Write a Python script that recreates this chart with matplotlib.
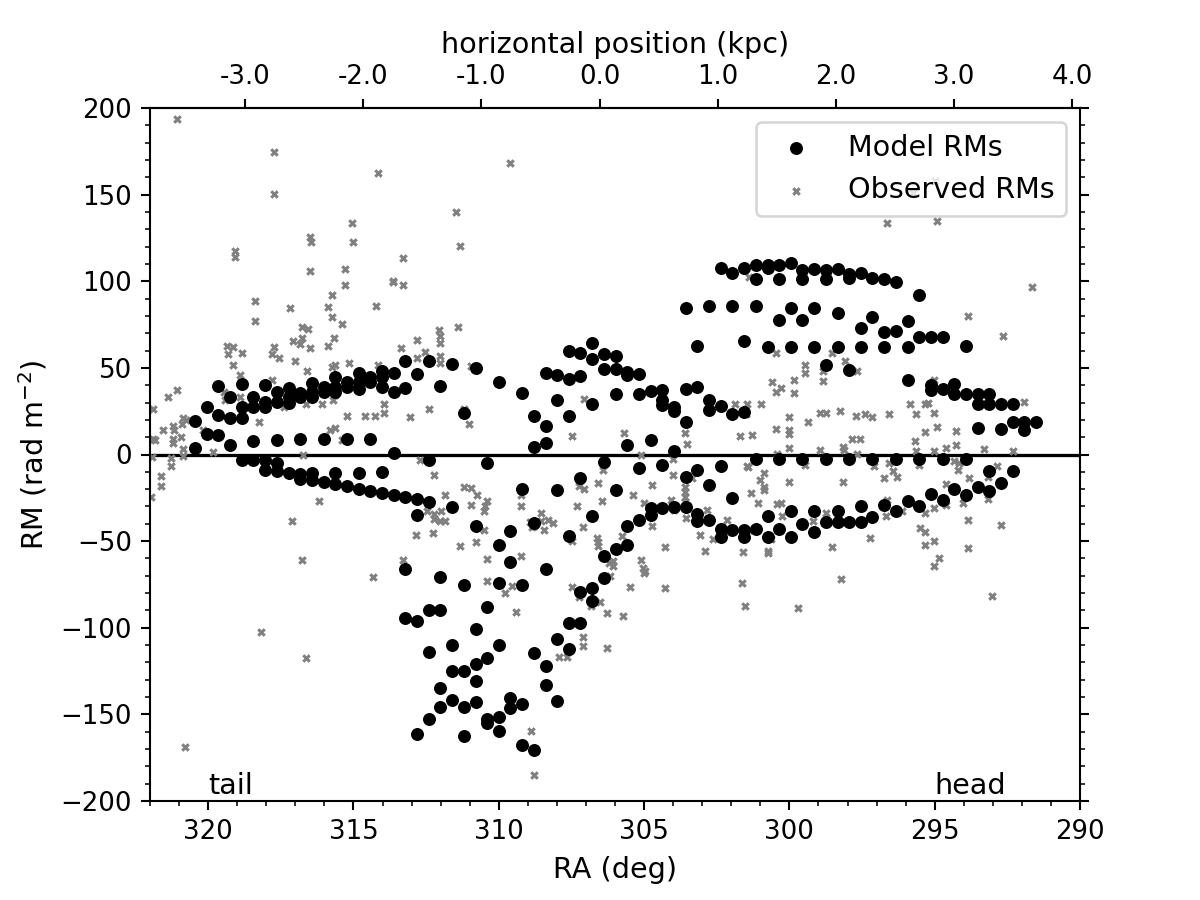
import matplotlib
matplotlib.use("Agg")
import matplotlib.pyplot as plt
from matplotlib.ticker import MultipleLocator, FormatStrFormatter

# ---------------- data ----------------
model_ra_grid = [320.45, 320.05, 319.65, 319.24, 318.84, 318.44, 318.04, 317.63, 317.23, 316.83,
                 316.43, 316.03, 315.63, 315.22, 314.82, 314.42, 314.02, 313.62, 313.21, 312.81,
                 312.41, 312.01, 311.61, 311.21, 310.80, 310.40, 310.00, 309.60, 309.19, 308.79,
                 308.39, 307.99, 307.59, 307.19, 306.78, 306.38, 305.98, 305.58, 305.18, 304.77,
                 304.37, 303.97, 303.57, 303.17, 302.77, 302.36, 301.96, 301.56, 301.16, 300.75,
                 300.36, 299.95, 299.55, 299.15, 298.75, 298.34, 297.94, 297.54, 297.14, 296.74,
                 296.33, 295.93, 295.53, 295.13, 294.73, 294.33, 293.92, 293.52, 293.12, 292.72,
                 292.32, 291.92, 291.51]

model_rm_by_ra = [
    [19.1, 3.5], [27.4, 11.7], [39.5, 22.9, 11.0], [33.0, 21.0, 5.4],
    [40.9, 27.2, 21.0, -3.1], [33.0, 27.2, 7.7, -3.1], [39.9, 30.3, 27.2, -3.1, -8.7],
    [36.0, 30.3, 8.3, -4.8, -9.6], [38.3, 33.1, 29.9, -10.6], [35.6, 33.1, 8.7, -11.2, -14.0],
    [41.4, 36.0, 33.1, -10.6, -15.0], [38.9, 36.0, 8.7, -16.0], [44.7, 38.9, 36.0, -10.6, -17.3],
    [41.8, 38.9, 9.0, -18.3], [47.2, 41.8, 38.0, -10.6, -19.8], [44.7, 41.8, 9.0, -21.2],
    [48.0, 44.7, 38.9, -10.2, -22.4], [47.2, 36.0, 1.0, -23.1],
    [53.9, 38.3, -24.7, -66.0, -94.6], [46.6, -25.6, -34.9, -96.0, -161.5],
    [53.9, -3.1, -27.6, -89.8, -114.1, -152.8], [39.3, -70.9, -89.8, -134.5, -145.7],
    [52.4, -30.5, -110.0, -125.2, -141.6], [23.9, -75.1, -125.2, -146.0, -162.4],
    [50.1, -41.0, -100.8, -121.0, -130.6, -142.6], [-5.0, -87.9, -117.2, -152.8, -154.7],
    [41.8, -52.0, -74.2, -110.0, -151.3, -159.5], [-44.3, -61.8, -140.3, -146.6],
    [35.4, -20.2, -75.3, -144.1, -167.6], [22.5, 4.6, -39.7, -114.3, -170.5],
    [47.2, 16.4, 6.8, -66.1, -122.0, -133.1], [46.1, 31.6, -20.4, -106.6, -142.2],
    [59.7, 43.8, 22.5, -46.8, -97.3, -112.0], [58.6, 45.1, -13.7, -79.6, -97.3],
    [64.3, 55.3, 29.3, -35.3, -77.1, -84.4], [58.2, 49.5, -4.4, -58.4, -71.3],
    [56.8, 49.1, 34.7, -20.4, -54.5], [47.6, 45.7, 5.6, -41.4, -52.0],
    [46.6, 35.1, -7.9, -37.8], [36.6, 8.5, -30.8, -34.7], [37.0, 31.2, 28.3, -6.0, -30.8],
    [27.7, 25.0, 1.9, -30.1], [84.8, 37.6, 18.7, -13.1, -30.1], [62.6, 38.9, -8.7, -34.3, -38.2],
    [85.7, 31.2, 25.8, -17.5, -37.8], [107.9, 27.9, -6.8, -43.0, -47.4],
    [104.6, 85.7, 23.1, -25.0, -43.5], [107.9, 65.5, 24.5, -43.5, -47.8],
    [109.4, 101.3, 85.7, -2.5, -43.0], [109.4, 107.5, 62.0, -35.3, -47.8],
    [109.4, 101.3, 77.6, -2.5, -43.0], [110.4, 84.4, 62.0, -32.8, -47.8],
    [106.5, 101.3, 77.6, -2.5, -40.1], [107.1, 84.4, 62.0, -32.8, -44.9],
    [106.5, 101.3, 51.4, -2.5, -39.1], [107.1, 81.5, 62.0, -32.8, -39.1],
    [104.2, 101.7, 48.6, -2.5, -39.1], [104.6, 73.2, 62.0, -29.9, -39.1],
    [101.7, 79.2, -2.5, -36.2], [101.3, 70.5, 62.0, -28.9], [99.4, 71.3, -2.5, -32.8],
    [77.3, 62.0, 43.2, -26.6], [92.1, 68.0, -2.5, -29.9], [68.0, 39.9, 37.4, -22.7],
    [68.0, 38.0, -2.5, -26.0], [40.9, 34.7, -20.2], [62.5, 35.1, -2.5, -23.1],
    [35.1, 28.9, 15.2, -18.9], [35.1, 28.9, -9.6, -20.8], [28.9, 14.8, -16.6],
    [28.9, 18.7, -9.6], [18.7, 13.9], [18.7],
]

obs_ra = [
    321.06, 317.72, 317.72, 314.17, 311.46, 311.34, 315.06, 315.00, 316.50, 316.46, 316.50, 319.08,
    319.08, 313.31, 315.29, 315.29, 313.63, 313.63, 313.31, 315.75, 318.38, 318.40, 317.17, 315.87,
    315.75, 314.23, 315.38, 316.77, 316.58, 317.09, 316.85, 316.76, 315.68, 319.35, 319.15, 317.74,
    316.49, 315.87, 313.35, 312.83, 312.04, 312.01, 312.01, 311.40,
    319.33, 318.82, 319.15, 318.92, 317.79, 317.55, 317.00, 315.75, 315.63, 315.16, 316.60, 317.81,
    319.47, 319.41, 318.90, 321.37, 321.08, 321.91, 321.56, 321.20, 321.16, 320.85, 320.76, 320.91,
    320.93, 321.20, 321.20, 321.83, 321.91, 320.87, 320.87, 321.27, 321.27, 321.61, 321.61, 321.98,
    321.94, 320.16, 319.82, 318.24, 317.38, 316.64, 316.09, 315.72, 315.65, 315.80, 315.63, 315.40,
    315.22, 314.59, 314.25, 313.96, 313.96, 314.17, 312.81, 312.53, 312.01, 312.01, 313.07, 312.39,
    312.72, 312.24, 311.86, 312.47, 312.24, 312.24, 311.99, 311.84, 312.01, 312.26, 312.84, 311.34,
    311.21, 311.03, 316.18, 317.12, 316.77, 313.29, 314.31, 316.74,
    310.95, 311.21, 307.48, 307.07, 305.69, 305.12, 304.00, 304.00, 303.60, 303.53, 303.60, 303.60,
    303.60, 303.60, 303.34, 302.83, 301.88, 301.45, 300.99, 301.50, 301.70, 301.27, 300.59, 300.47,
    300.47, 300.47, 300.43, 310.95, 310.74, 310.95, 310.42, 310.49, 310.52, 309.22, 309.22, 310.52,
    310.78, 310.42, 309.22, 308.54, 308.54, 308.31, 308.13, 308.91, 308.85, 308.43, 308.79, 307.31,
    307.25, 307.07, 306.59, 306.44, 306.42, 307.10, 307.48, 306.63, 306.58, 306.58, 305.75, 305.37,
    305.01, 304.74, 304.74, 304.09, 303.97, 305.12, 305.03, 304.97, 306.06, 306.06, 306.21, 304.29,
    303.54, 303.07, 302.91, 302.63, 302.14, 301.59, 301.31, 301.07, 301.24, 301.00, 300.89, 300.89,
    300.89, 300.75, 300.75, 300.62, 300.41, 301.47, 301.42,
    300.28, 299.84, 299.84, 299.45, 299.45, 298.83, 298.83, 298.52, 298.09, 297.68, 300.01, 300.01,
    300.01, 299.36, 298.95, 298.75, 298.25, 297.72, 297.40, 297.17, 297.85, 297.56, 298.14, 298.12,
    298.94, 300.01, 297.68, 296.57, 295.85, 295.65, 295.68, 295.65, 295.34, 295.22, 295.02, 295.02,
    295.33, 294.92, 295.02, 294.61, 294.25, 294.25, 293.30, 292.30, 291.92, 299.45, 300.01, 298.17,
    300.28, 300.24, 299.20, 298.75, 298.54, 298.23, 297.22, 297.10, 296.57, 296.76, 296.43, 296.31,
    296.63, 296.68, 296.13, 295.53, 295.50, 295.34, 295.34, 295.34, 295.02, 295.02, 294.86, 295.04,
    294.61, 294.61, 294.19, 294.04, 293.83, 294.35, 294.17, 293.87, 293.87, 293.18, 293.18, 292.87,
    292.72,
    296.64, 294.92, 291.65, 293.87, 292.64, 294.98, 295.76,
    309.60, 301.39,
    318.18, 316.64, 320.79,
    310.42, 309.56, 309.79, 309.39, 307.47, 307.24, 306.84, 306.52, 306.18, 305.50, 305.01, 304.28,
    306.29, 305.73, 307.10, 307.10, 306.27, 307.93, 307.64, 301.62, 301.54, 308.88, 308.79,
    299.70, 293.03,
]

obs_rm = [
    193.8, 174.7, 150.3, 162.6, 139.9, 120.2, 133.5, 122.7, 125.4, 122.4, 106.0, 117.5,
    113.9, 113.3, 107.3, 97.9, 100.4, 99.4, 97.7, 92.1, 88.6, 76.9, 84.8, 85.0,
    79.6, 85.5, 75.1, 73.8, 72.4, 65.5, 63.6, 67.2, 67.5, 62.8, 61.8, 62.0,
    61.7, 62.8, 61.7, 65.9, 72.1, 68.2, 64.3, 73.6,
    58.2, 58.8, 51.4, 45.8, 57.8, 55.9, 53.8, 50.5, 51.8, 52.8, 48.0, 43.2,
    36.0, 31.2, 33.1, 33.1, 37.4, 26.0, 13.9, 16.2, 13.9, 21.2, 20.2, 17.7,
    10.0, 8.8, 6.8, 8.5, 8.8, 2.9, -1.0, -1.9, -6.4, -12.5, -18.3, -24.3,
    -1.5, 14.3, 1.3, 18.5, 27.4, 28.9, 29.3, 31.2, 34.1, 14.3, 15.4, 8.1,
    22.5, 22.1, 22.5, 23.9, 29.3, 51.8, 55.9, 59.1, 56.8, 53.0, 21.8, 26.0,
    -3.1, -11.7, -23.1, -32.4, -34.3, -37.2, -32.4, -38.2, -38.2, -45.3, -46.4, -52.8,
    -18.9, 17.7, -27.0, -38.6, -60.9, -60.7, -70.5, -0.2,
    50.9, 26.4, 10.6, 32.0, 12.3, 0.0, -2.7, -11.6, 12.3, 6.2, -18.9, -21.8,
    -24.7, -27.6, -13.5, -31.8, 29.3, 29.3, 29.3, 23.1, 10.4, 11.4, 41.8, 36.0,
    58.6, 14.8, 0.4, -19.2, -23.1, -28.9, -26.6, -29.9, -32.8, -23.1, -29.9, -43.4,
    -50.7, -60.3, -58.4, -33.7, -38.2, -37.6, -39.5, -39.1, -42.0, -43.5, -41.0, -29.5,
    -18.3, -19.8, -16.6, -27.0, -8.8, -42.0, -50.1, -48.1, -50.7, -52.6, -47.2, -23.1,
    -28.1, -17.5, -41.0, -26.2, -32.0, -60.9, -65.5, -67.0, -61.3, -64.2, -62.8, -53.6,
    -36.6, -46.2, -55.5, -48.7, -37.7, -56.1, -22.4, -27.9, -43.5, -14.6, -10.8, -18.9,
    -20.4, -55.5, -57.0, -48.7, -28.5, -6.4, -7.3,
    38.3, 42.8, 35.5, 51.4, 47.2, 48.0, 42.2, 58.6, 53.9, 48.2, 21.6, 13.9,
    11.6, 18.7, 24.1, 23.9, 24.9, 22.5, 23.1, 21.6, 9.1, 9.1, 4.6, 2.7,
    2.7, 3.6, 0.4, 23.1, 29.3, 23.5, 7.7, 1.9, 29.3, 29.7, 43.2, 23.9,
    12.9, 15.8, 2.3, 3.9, 13.5, 5.2, 2.9, 1.9, 30.2, -5.8, -15.6, -16.0,
    -28.1, -35.7, -38.2, -33.7, -53.6, -71.8, -48.4, -6.4, -5.0, -13.5, -9.6, -12.7,
    -26.2, -35.7, -32.8, -5.8, -42.4, -44.9, -33.7, -52.0, -49.7, -31.0, -59.7, -64.2,
    -17.3, -28.9, -8.8, -28.1, -13.5, -3.9, -5.0, -37.6, -53.9, -12.7, -25.6, -6.8,
    -40.6,
    133.5, 134.9, 96.5, 79.9, 68.6, 158.0, 150.9,
    168.2, 102.7,
    -102.3, -117.2, -168.6,
    -73.2, -75.7, -79.9, -90.8, -76.7, -82.5, -87.3, -85.0, -69.9, -76.3, -68.6, -77.1,
    -91.5, -93.1, -105.6, -110.8, -111.7, -116.6, -116.6, -74.4, -87.3, -159.5, -185.0,
    -88.6, -81.5,
]

kpc_ticks = [-3.0, -2.0, -1.0, 0.0, 1.0, 2.0, 3.0, 4.0]
RA_AT_ZERO_KPC = 306.53
DEG_PER_KPC = 4.065

# ---------------- plot ----------------
model_ra = [ra for ra, col in zip(model_ra_grid, model_rm_by_ra) for _ in col]
model_rm = [rm for col in model_rm_by_ra for rm in col]

fig = plt.figure(figsize=(6.4, 4.8), dpi=187.5)
ax = fig.add_subplot(111)

ax.axhline(0, color="black", lw=1.25, zorder=1)
ax.scatter(obs_ra, obs_rm, marker="X", s=11, color="grey", linewidths=0, zorder=2,
           label="Observed RMs")
ax.scatter(model_ra, model_rm, marker="o", s=20, color="black", linewidths=0.5, zorder=3,
           label="Model RMs")

ax.set_xlim(322, 290)
ax.set_ylim(-200, 200)
ax.xaxis.set_major_locator(MultipleLocator(5))
ax.xaxis.set_minor_locator(MultipleLocator(1))
ax.yaxis.set_major_locator(MultipleLocator(50))
ax.yaxis.set_minor_locator(MultipleLocator(10))
ax.tick_params(which="both", right=True, top=False, direction="out", labelsize=10)

ax.set_xlabel("RA (deg)", fontsize=11)
ax.set_ylabel("RM (rad m$^{-2}$)", fontsize=11)

ax.text(320, -196, "tail", fontsize=11, ha="left", va="baseline")
ax.text(295, -196, "head", fontsize=11, ha="left", va="baseline")

handles, labels = ax.get_legend_handles_labels()
ax.legend(handles[::-1], labels[::-1], loc="upper right", fontsize=11)


def ra2kpc(ra):
    return (RA_AT_ZERO_KPC - ra) / DEG_PER_KPC


def kpc2ra(k):
    return RA_AT_ZERO_KPC - k * DEG_PER_KPC


secax = ax.secondary_xaxis("top", functions=(ra2kpc, kpc2ra))
secax.set_xticks(kpc_ticks)
secax.xaxis.set_major_formatter(FormatStrFormatter("%.1f"))
secax.tick_params(which="minor", length=0)
secax.tick_params(labelsize=10)
secax.set_xlabel("horizontal position (kpc)", fontsize=11)

fig.savefig("out.png", dpi=187.5)
